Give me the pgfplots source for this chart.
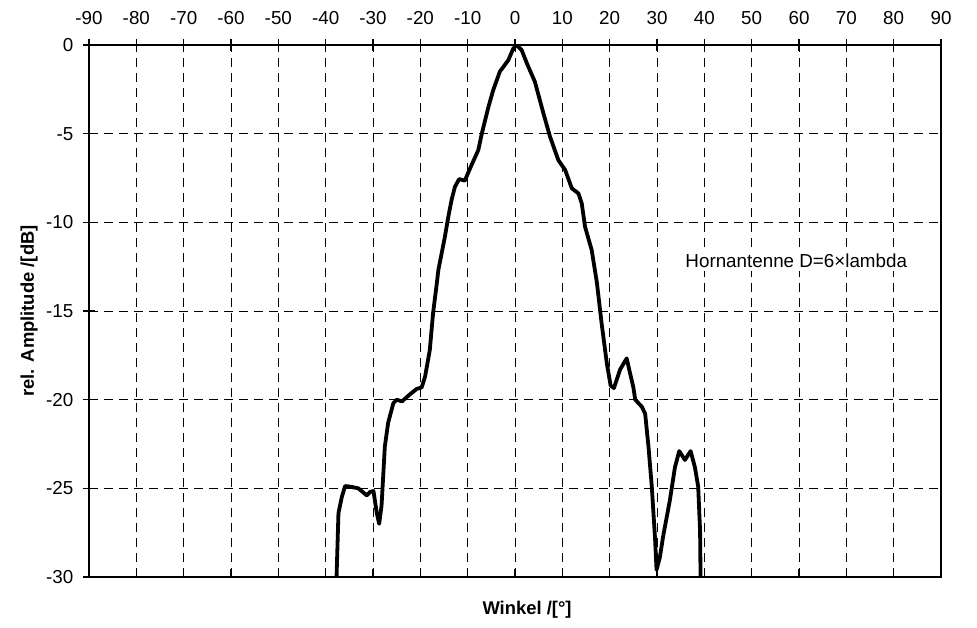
\documentclass[border=0pt]{standalone}
\usepackage{fontspec}
\setmainfont{Liberation Sans}
\usepackage{pgfplots}
\pgfplotsset{compat=1.18}
\begin{document}
\fontsize{9.4}{11}\selectfont
\begin{tikzpicture}[x=1pt,y=1pt]
\path[use as bounding box] (-44.5,-25) rectangle (444,288.5);
\pgfplotsset{
  common/.style={
    scale only axis, width=426pt, height=266pt,
    at={(0,0)}, anchor=south west,
    xmin=-90, xmax=90, ymin=-30, ymax=0,
    xtick={-90,-80,...,90}, ytick={-30,-25,...,0},
    axis line style={line width=1pt},
    /pgf/number format/assume math mode=true,
    ticklabel style={font=\fontsize{9.4}{11}\selectfont},
  }
}
\begin{axis}[common,
  xtick pos=right, xticklabel pos=right,
  ytick pos=left, yticklabel pos=left,
  tick align=center, major tick length=6pt,
  tick style={line width=0.6pt, black},
  grid=major,
  major grid style={dashed, dash pattern=on 4.5pt off 3pt, line width=0.5pt, black},
  xticklabel style={yshift=4pt},
  yticklabel style={xshift=-1.5pt},
  line join=round,
]
\addplot[line width=1.9pt, black] coordinates {
(-37.7,-30) (-37.3,-26.4) (-36.6,-25.5) (-35.9,-24.87) (-34.9,-24.9)
(-33.1,-25.0) (-31.3,-25.4) (-30.6,-25.2) (-29.9,-25.15) (-29.2,-26.4)
(-28.7,-27.0) (-28.2,-26.0) (-27.5,-22.65) (-26.8,-21.3) (-25.7,-20.2)
(-25.0,-20.0) (-23.9,-20.1) (-22.2,-19.7) (-20.8,-19.4) (-19.7,-19.3)
(-19.0,-18.7) (-18.0,-17.2) (-17.3,-15.1) (-16.5,-13.4) (-16.2,-12.7)
(-15.5,-11.75) (-14.8,-10.8) (-14.1,-9.7) (-13.4,-8.74) (-12.7,-8.0)
(-11.8,-7.56) (-10.6,-7.65) (-9.5,-6.96) (-7.75,-5.92) (-7.0,-4.98)
(-5.6,-3.48) (-4.6,-2.54) (-3.2,-1.5) (-1.4,-0.85) (-0.35,-0.19)
(0.35,0) (1.4,-0.28) (2.5,-1.03) (4.2,-2.07) (6.0,-3.85)
(7.4,-5.17) (9.15,-6.49) (10.6,-7.05) (12.0,-8.08) (13.4,-8.37)
(14.1,-8.93) (14.8,-10.25) (16.2,-11.56) (17.3,-13.4) (18.3,-15.7)
(19.4,-17.95) (20.2,-19.2) (20.9,-19.35) (22.2,-18.3) (23.6,-17.67)
(24.3,-18.5) (25.0,-19.3) (25.4,-20.0) (26.8,-20.4) (27.5,-20.8)
(28.2,-22.65) (28.9,-24.9) (29.6,-27.9) (29.9,-29.6) (30.6,-28.9)
(31.3,-27.7) (32.7,-25.7) (33.8,-23.8) (34.7,-22.9) (35.9,-23.4)
(37.1,-22.9) (38.0,-23.8) (38.7,-24.9) (39.1,-27.4) (39.2,-30)
};
\node[anchor=west, fill=white, inner sep=1.5pt, font=\fontsize{9.4}{11}\selectfont]
  at (axis cs:35.3,-12.18) {Hornantenne D=6×lambda};
\end{axis}
\begin{axis}[common,
  xtick pos=left, xticklabels={}, ytick=\empty,
  tick align=inside, major tick length=4pt,
  tick style={line width=0.6pt, black},
]
\end{axis}
\node[font=\bfseries\fontsize{9.2}{11}\selectfont] at (219,-16.5) {Winkel /[°]};
\node[font=\bfseries\fontsize{9.2}{11}\selectfont, rotate=90] at (-30,133) {rel. Amplitude /[dB]};
\end{tikzpicture}
\end{document}
